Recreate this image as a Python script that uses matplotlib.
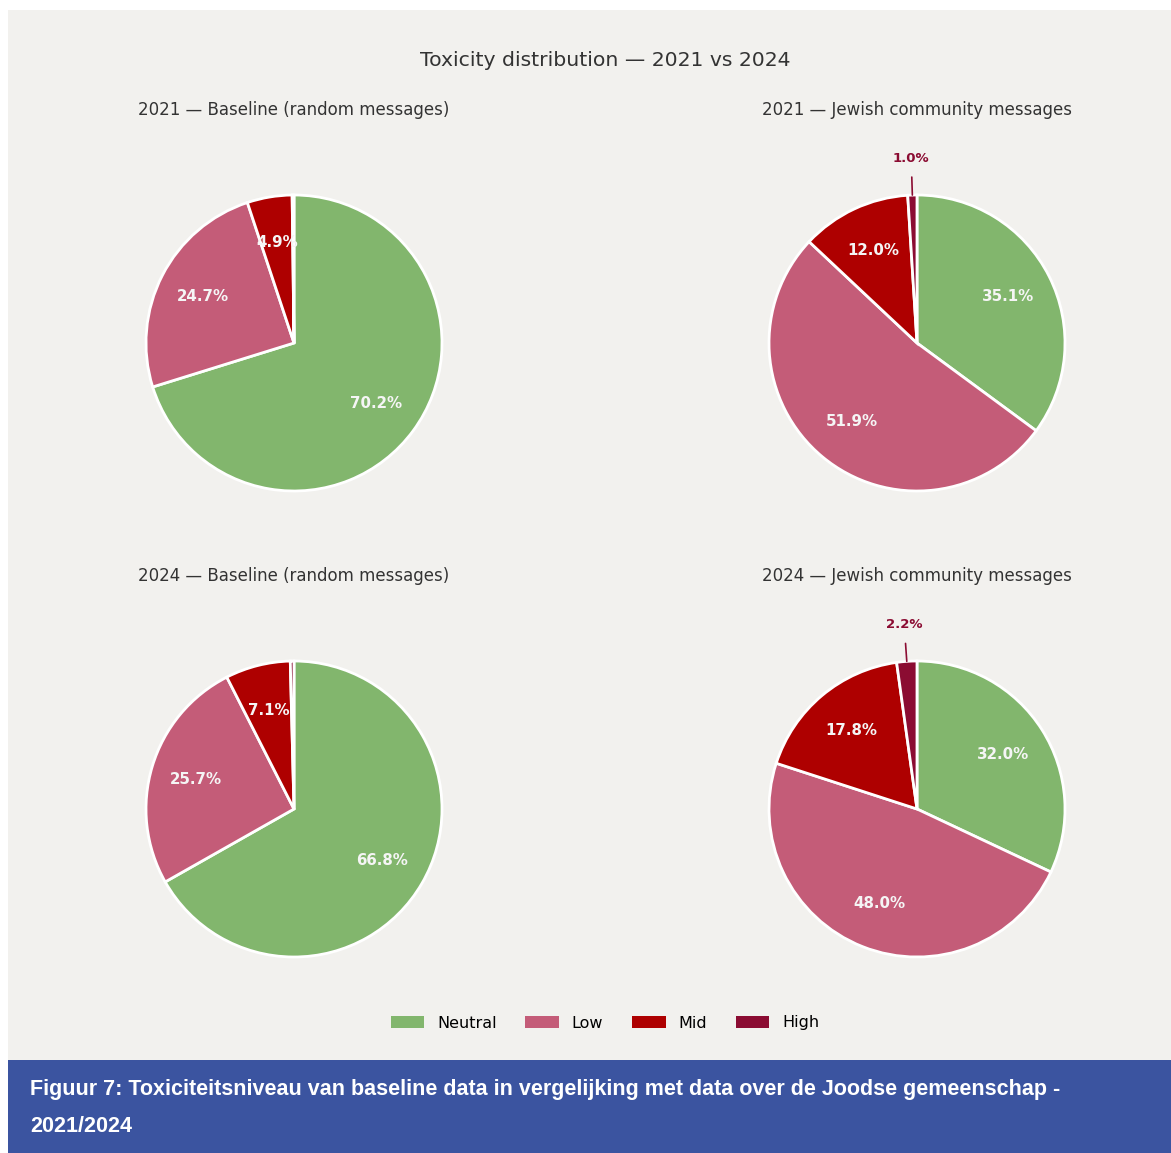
import matplotlib.pyplot as plt
from matplotlib.patches import Rectangle, Patch
import numpy as np

# data (percentages)
levels = ['Neutral', 'Low', 'Mid', 'High']
colors = ['#82b66d', '#c45c78', '#ae0000', '#8b0c32']

baseline_2021 = [70.2, 24.7, 4.9, 0.2]
jewish_2021 = [35.1, 51.9, 12.0, 1.0]
baseline_2024 = [66.8, 25.7, 7.1, 0.4]
jewish_2024 = [32.0, 48.0, 17.8, 2.2]

panel_titles = ['2021 — Baseline (random messages)',
                '2021 — Jewish community messages',
                '2024 — Baseline (random messages)',
                '2024 — Jewish community messages']

W, H = 1171, 1153
BG = '#f2f1ee'


def draw_pie(fig, cx, cy, values, title):
    half = 200
    r = 148
    ax = fig.add_axes([(cx - half) / W, 1 - (cy + half) / H, 2 * half / W, 2 * half / H])
    ax.set_facecolor('none')
    wedges, _ = ax.pie(values, colors=colors, startangle=90, counterclock=False,
                       radius=1.0, wedgeprops=dict(edgecolor='white', linewidth=2))
    total = sum(values)
    for w, v in zip(wedges, values):
        pct = 100 * v / total
        if pct < 0.5:
            continue
        ang = np.deg2rad((w.theta1 + w.theta2) / 2)
        if pct < 3:
            # small slices get an outside label with a leader line
            ax.annotate(f'{pct:.1f}%', xy=(np.cos(ang) * 1.0, np.sin(ang) * 1.0),
                        xytext=(np.cos(ang) * 1.25, np.sin(ang) * 1.25),
                        ha='center', va='center', fontsize=9.5, fontweight='bold',
                        color=w.get_facecolor(),
                        arrowprops=dict(arrowstyle='-', color=w.get_facecolor(), lw=1.2,
                                        shrinkA=7, shrinkB=0))
        else:
            ax.text(np.cos(ang) * 0.69, np.sin(ang) * 0.69, f'{pct:.1f}%',
                    ha='center', va='center', fontsize=10.8, fontweight='bold', color='#f5f5f5')
    lim = half / r
    ax.set_xlim(-lim, lim)
    ax.set_ylim(-lim, lim)
    ax.set_aspect('equal')
    ax.axis('off')
    fig.text(cx / W, 1 - 110 / H if cy < 500 else 1 - 576 / H, title,
             ha='center', va='center', fontsize=12, color='#333333')


def main():
    fig = plt.figure(figsize=(W / 100, H / 100), dpi=100, facecolor='white')
    # grey panel and blue caption bar
    fig.patches.append(Rectangle((8 / W, 93 / H), 1 - 8 / W, 1 - 103 / H,
                                 transform=fig.transFigure, facecolor=BG, edgecolor='none', zorder=-2))
    fig.patches.append(Rectangle((8 / W, 0), 1 - 8 / W, 93 / H,
                                 transform=fig.transFigure, facecolor='#3b54a0', edgecolor='none', zorder=-2))

    fig.text(605 / W, 1 - 60 / H, 'Toxicity distribution — 2021 vs 2024',
             ha='center', va='center', fontsize=14.7, color='#333333')

    draw_pie(fig, 294, 343, baseline_2021, panel_titles[0])
    draw_pie(fig, 917, 343, jewish_2021, panel_titles[1])
    draw_pie(fig, 294, 809, baseline_2024, panel_titles[2])
    draw_pie(fig, 917, 809, jewish_2024, panel_titles[3])

    handles = [Patch(facecolor=c, edgecolor='none') for c in colors]
    fig.legend(handles, levels, loc='center', bbox_to_anchor=(605 / W, 1 - 1023 / H),
               ncol=4, frameon=False, fontsize=11.5, handlelength=2.1, handleheight=0.8,
               columnspacing=1.8, handletextpad=0.8)

    cap_font = ['Liberation Sans', 'DejaVu Sans']
    fig.text(30 / W, 1 - 1090 / H,
             'Figuur 7: Toxiciteitsniveau van baseline data in vergelijking met data over de Joodse gemeenschap -',
             ha='left', va='center', fontsize=15.5, fontweight='bold', color='white', family=cap_font)
    fig.text(30 / W, 1 - 1126 / H, '2021/2024',
             ha='left', va='center', fontsize=15.5, fontweight='bold', color='white', family=cap_font)

    fig.savefig('out.png', dpi=100, facecolor=fig.get_facecolor())


if __name__ == "__main__":
    main()
